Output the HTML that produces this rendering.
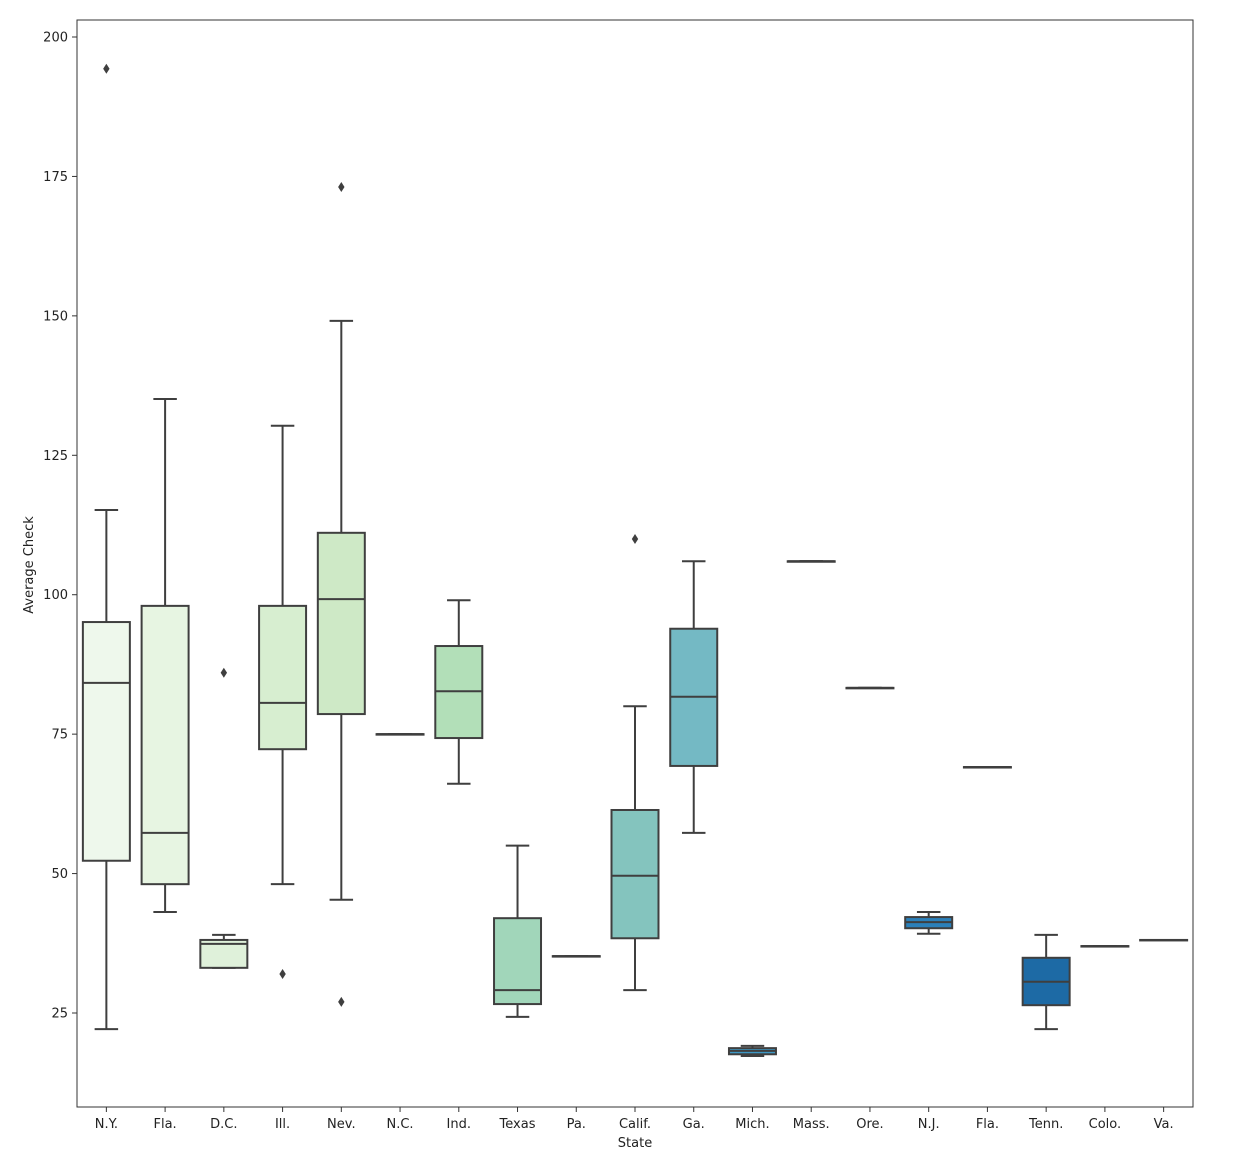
<!DOCTYPE html>
<html><head><meta charset="utf-8">
<style>
html,body{margin:0;padding:0;background:#fff;}
svg{display:block;font-family:"DejaVu Sans","Liberation Sans",sans-serif;}
</style></head>
<body>
<svg id="chart" width="1252" height="1168" viewBox="0 0 1252 1168" xmlns="http://www.w3.org/2000/svg"></svg>
<script>
const categories = ["N.Y.","Fla.","D.C.","Ill.","Nev.","N.C.","Ind.","Texas","Pa.","Calif.","Ga.","Mich.","Mass.","Ore.","N.J.","Fla.","Tenn.","Colo.","Va."];
const whiskerLow = [22.1,43.1,33.1,48.1,45.3,75,66.1,24.3,35.2,29.1,57.3,17.3,106,83.3,39.2,69.1,22.1,37,38.1];
const q1Values   = [52.3,48.1,33.1,72.3,78.6,75,74.3,26.6,35.2,38.4,69.3,17.6,106,83.3,40.2,69.1,26.4,37,38.1];
const medians    = [84.2,57.3,37.4,80.6,99.2,75,82.7,29.1,35.2,49.6,81.7,18.2,106,83.3,41.3,69.1,30.6,37,38.1];
const q3Values   = [95.1,98,38.1,98,111.1,75,90.8,42,35.2,61.4,93.9,18.7,106,83.3,42.2,69.1,34.9,37,38.1];
const whiskerHigh= [115.2,135.1,39,130.3,149.1,75,99,55,35.2,80,106,19.1,106,83.3,43.1,69.1,39,37,38.1];
const outliers   = [[194.3],[],[86],[32],[173.1,27],[],[],[],[],[110],[],[],[],[],[],[],[],[],[]];
const boxColors  = ["#eef8ec","#e7f5e2","#dff1da","#d7eed0","#cee9c6","#c2e4bf","#b2dfb8","#a1d6ba","#92cfbd","#84c4be","#74b9c4","#3e97c3","#3a8fc0","#3388bd","#2b80ba","#2577b2","#1d6aa5","#175f9c","#115594"];
const yTicks = [25,50,75,100,125,150,175,200];

const svg = document.getElementById('chart');
const NS = 'http://www.w3.org/2000/svg';
const L=77,R=1193,T=20,B=1107;
const y = v => 1013 - (v-25)*5.5771;
const step = (R-L)/categories.length;
const x = i => L + step*(i+0.5);
const bw = step*0.8;
function mk(tag, attrs){const e=document.createElementNS(NS,tag);for(const k in attrs)e.setAttribute(k,attrs[k]);svg.appendChild(e);return e;}
const col='#3f3f3f';

categories.forEach((c,i)=>{
  const cx=x(i);
  const g=mk('g',{});
  
  
  const add=(tag,a)=>{const e=document.createElementNS(NS,tag);for(const k in a)e.setAttribute(k,a[k]);g.appendChild(e);return e;};
  add('line',{x1:cx,x2:cx,y1:y(whiskerLow[i]),y2:y(q1Values[i]),stroke:col,'stroke-width':2});
  add('line',{x1:cx,x2:cx,y1:y(q3Values[i]),y2:y(whiskerHigh[i]),stroke:col,'stroke-width':2});
  add('line',{x1:cx-bw/4,x2:cx+bw/4,y1:y(whiskerLow[i]),y2:y(whiskerLow[i]),stroke:col,'stroke-width':2});
  add('line',{x1:cx-bw/4,x2:cx+bw/4,y1:y(whiskerHigh[i]),y2:y(whiskerHigh[i]),stroke:col,'stroke-width':2});
  add('rect',{x:cx-bw/2,y:y(q3Values[i]),width:bw,height:Math.max(0.5,y(q1Values[i])-y(q3Values[i])),fill:boxColors[i],stroke:col,'stroke-width':2});
  add('line',{x1:cx-bw/2,x2:cx+bw/2,y1:y(medians[i]),y2:y(medians[i]),stroke:col,'stroke-width':2});
  outliers[i].forEach(v=>{
    const d=add('path',{d:`M${cx},${y(v)-5} L${cx+3.2},${y(v)} L${cx},${y(v)+5} L${cx-3.2},${y(v)} Z`,fill:col});
    
    
  });
  mk('line',{x1:cx,x2:cx,y1:B,y2:B+5,stroke:'#333','stroke-width':1});
  const t=mk('text',{x:cx,y:B+21,'text-anchor':'middle','font-size':13,fill:'#222'});
  t.textContent=c;
  
  
});
yTicks.forEach(v=>{
  mk('line',{x1:L-5,x2:L,y1:y(v),y2:y(v),stroke:'#333','stroke-width':1});
  const t=mk('text',{x:L-9,y:y(v)+4.5,'text-anchor':'end','font-size':13,fill:'#222'});
  t.textContent=v;
  
  
});
const frame=mk('rect',{x:L,y:T,width:R-L,height:B-T,fill:'none',stroke:'#333','stroke-width':1});


const xt=mk('text',{x:(L+R)/2,y:1147,'text-anchor':'middle','font-size':13,fill:'#222'});
xt.textContent='State';


const yt=mk('text',{x:0,y:0,transform:'translate(33,565) rotate(-90)','text-anchor':'middle','font-size':13,fill:'#222'});
yt.textContent='Average Check';


</script>
</body></html>
